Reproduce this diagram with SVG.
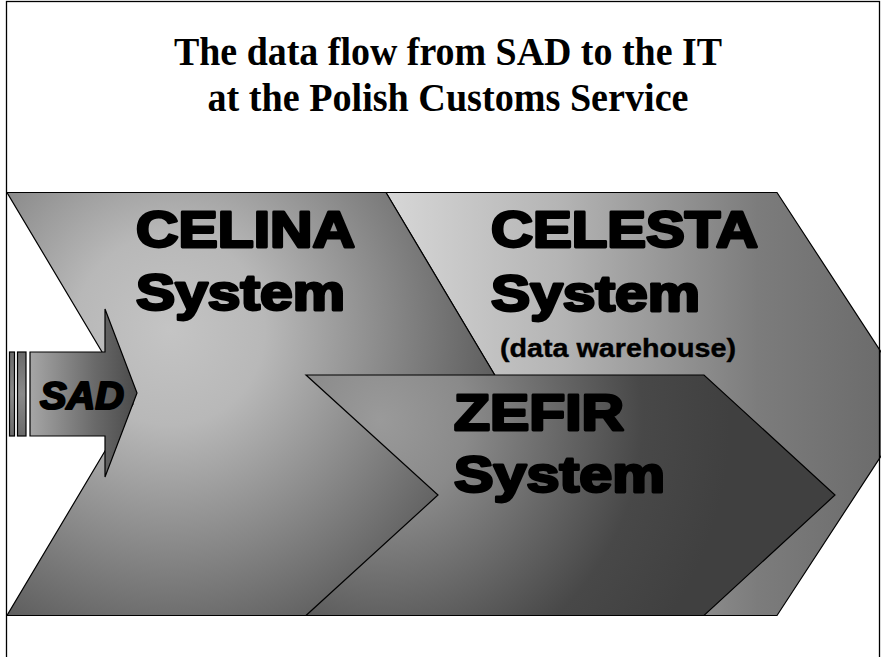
<svg xmlns="http://www.w3.org/2000/svg" width="881" height="657" viewBox="0 0 881 657">
<style>
.shape{stroke:#000;stroke-width:1.2;stroke-linejoin:miter}
.big{font-family:"Liberation Sans",Arial,sans-serif;font-weight:bold;font-size:50px;fill:#000;stroke:#000;stroke-width:2.8;stroke-linejoin:round}
.title{font-family:"Liberation Serif","Times New Roman",serif;font-weight:bold;font-size:40px;fill:#000;text-anchor:middle}
.sub{font-family:"Liberation Sans",Arial,sans-serif;font-weight:bold;font-size:26px;fill:#000;stroke:#000;stroke-width:0.4}
</style>
<defs>
<radialGradient id="gCelina" gradientUnits="userSpaceOnUse" cx="170" cy="330" r="380">
<stop offset="0" stop-color="#c4c4c4"/>
<stop offset="0.25" stop-color="#b8b8b8"/>
<stop offset="1" stop-color="#4a4a4a"/>
</radialGradient>
<linearGradient id="gCelesta" gradientUnits="userSpaceOnUse" x1="390" y1="0" x2="880" y2="0">
<stop offset="0" stop-color="#d6d6d6"/>
<stop offset="0.35" stop-color="#b4b4b4"/>
<stop offset="0.75" stop-color="#7c7c7c"/>
<stop offset="1" stop-color="#6c6c6c"/>
</linearGradient>
<radialGradient id="gZefir" gradientUnits="userSpaceOnUse" cx="380" cy="420" r="350">
<stop offset="0" stop-color="#9a9a9a"/>
<stop offset="0.25" stop-color="#8a8a8a"/>
<stop offset="0.75" stop-color="#484848"/>
<stop offset="1" stop-color="#404040"/>
</radialGradient>
<linearGradient id="gSad" gradientUnits="userSpaceOnUse" x1="30" y1="0" x2="137" y2="0">
<stop offset="0" stop-color="#a6a6a6"/>
<stop offset="0.6" stop-color="#6a6a6a"/>
<stop offset="1" stop-color="#4a4a4a"/>
</linearGradient>
<linearGradient id="gBar" x1="0" y1="0" x2="0" y2="1">
<stop offset="0" stop-color="#6a6a6a"/>
<stop offset="0.5" stop-color="#8a8a8a"/>
<stop offset="1" stop-color="#6a6a6a"/>
</linearGradient>
</defs>
<rect x="0" y="0" width="881" height="657" fill="#fff"/>
<g id="title">
<text class="title" x="448" y="65" textLength="548" lengthAdjust="spacingAndGlyphs">The data flow from SAD to the IT</text>
<text class="title" x="448" y="111" textLength="481" lengthAdjust="spacingAndGlyphs">at the Polish Customs Service</text>
</g>
<g id="celesta">
<polygon class="shape" fill="url(#gCelesta)" points="386,192.5 777,192.5 915,404 777,615.5 386,615.5 512,404"/>
<text class="big" x="491" y="246.5" textLength="267" lengthAdjust="spacingAndGlyphs">CELESTA</text>
<text class="big" x="491" y="311" textLength="209" lengthAdjust="spacingAndGlyphs">System</text>
<text class="sub" x="500" y="357" textLength="236" lengthAdjust="spacingAndGlyphs">(data warehouse)</text>
</g>
<g id="celina">
<polygon class="shape" fill="url(#gCelina)" points="7,192.5 386,192.5 512,404 386,615.5 7,615.5 133,404"/>
<text class="big" x="136" y="246.5" textLength="219" lengthAdjust="spacingAndGlyphs">CELINA</text>
<text class="big" x="136" y="310" textLength="209" lengthAdjust="spacingAndGlyphs">System</text>
</g>
<g id="zefir">
<polygon class="shape" fill="url(#gZefir)" points="306,375 704,375 835,495 704,615.5 306,615.5 438,495"/>
<text class="big" x="454" y="429.5" textLength="170" lengthAdjust="spacingAndGlyphs">ZEFIR</text>
<text class="big" x="454" y="491.5" textLength="211" lengthAdjust="spacingAndGlyphs">System</text>
</g>
<g id="sad">
<rect class="shape" x="9.5" y="352" width="5" height="84" fill="url(#gBar)"/>
<rect class="shape" x="17.5" y="352" width="8.5" height="84" fill="url(#gBar)"/>
<polygon class="shape" fill="url(#gSad)" points="30,352 105,352 105,309 137,393 105,477 105,436 30,436"/>
<text x="40" y="409" font-family="'Liberation Sans',Arial,sans-serif" font-weight="bold" font-style="italic" font-size="38" stroke="#000" stroke-width="2.2" stroke-linejoin="round" textLength="84" lengthAdjust="spacingAndGlyphs">SAD</text>
</g>
<g id="connectors"/>
<rect x="6.5" y="1.5" width="873" height="700" fill="none" stroke="#000" stroke-width="1.3"/>
</svg>
